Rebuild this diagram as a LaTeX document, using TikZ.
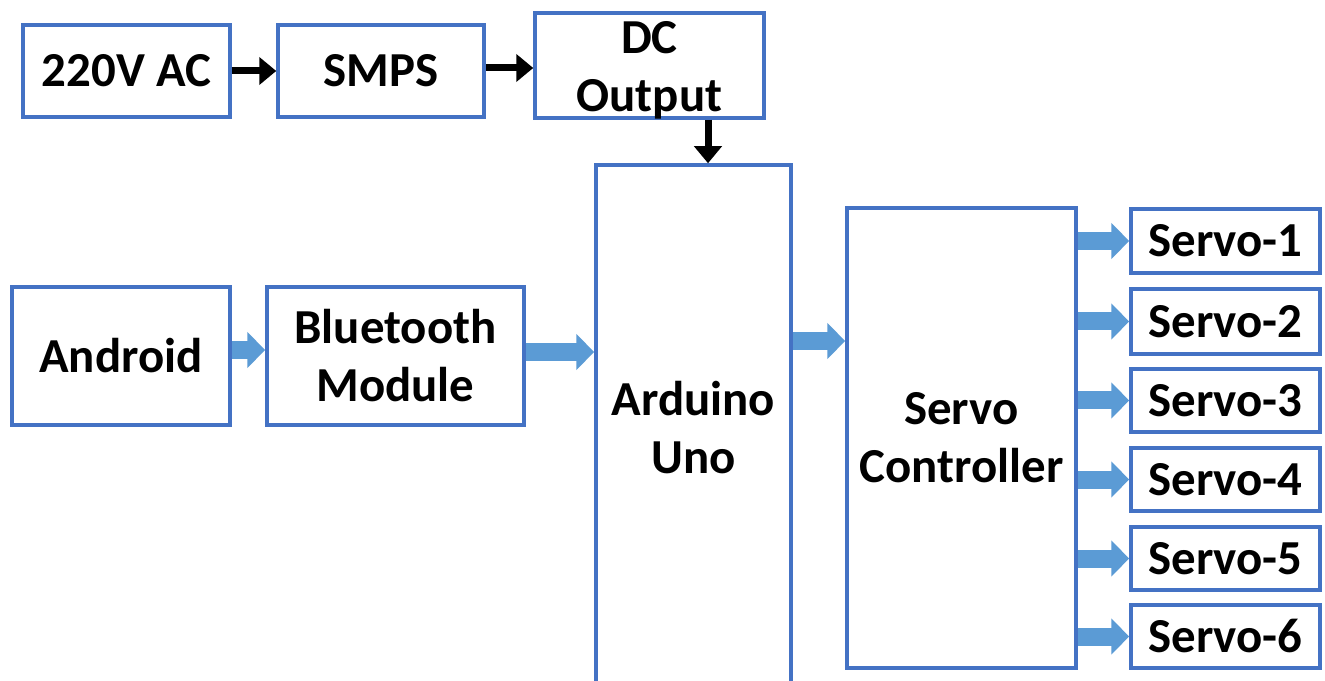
\documentclass[tikz,border=0pt]{standalone}
\usepackage{fontspec}
\setmainfont{Carlito}
\usetikzlibrary{arrows.meta,fit}
\definecolor{boxblue}{HTML}{4472C4}
\definecolor{arrowblue}{HTML}{5B9BD5}
\begin{document}
\begin{tikzpicture}[x=0.2mm,y=-0.2mm,
  box/.style={draw=boxblue, line width=0.7mm, inner sep=0pt},
  txt/.style={align=center, inner sep=0pt,
    font=\bfseries\fontsize{27.8}{33}\selectfont, text=black},
  blk/.style={line width=1.4mm, -{Triangle[length=3.4mm,width=5.4mm]}},
  blu/.style={draw=arrowblue, line width=3.6mm, -{Triangle[length=3.6mm,width=7mm]}}]
\clip (0,0) rectangle (1325,681);
\fill[white] (0,0) rectangle (1325,681);
% top row
\node[box, fit={(23,25) (230,117)}, label={[txt]center:220V AC}] (ac) {};
\node[box, fit={(278,25) (484,117)}, label={[txt]center:SMPS}] (smps) {};
\node[box, fit={(535,13) (764,118)}, label={[txt,yshift=-1mm]center:DC\\Output}] (dc) {};
% middle
\node[box, fit={(12,287) (230,425)}, label={[txt]center:Android}] (and) {};
\node[box, fit={(267,287) (524,425)}, label={[txt]center:Bluetooth\\Module}] (bt) {};
\node[box, fit={(596,165) (791,690)}, label={[txt]center:Arduino\\Uno}] (ard) {};
\node[box, fit={(847,208) (1076,668)}, label={[txt]center:Servo\\Controller}] (sc) {};
% servos
\node[box, fit={(1131,209) (1320,273)}, label={[txt]center:Servo-1}] (s1) {};
\node[box, fit={(1131,289) (1320,354)}, label={[txt]center:Servo-2}] (s2) {};
\node[box, fit={(1131,369) (1320,432)}, label={[txt]center:Servo-3}] (s3) {};
\node[box, fit={(1131,448) (1320,511)}, label={[txt]center:Servo-4}] (s4) {};
\node[box, fit={(1131,527) (1320,590)}, label={[txt]center:Servo-5}] (s5) {};
\node[box, fit={(1131,605) (1320,668)}, label={[txt]center:Servo-6}] (s6) {};
% black arrows
\draw[blk] (ac.east) -- (smps.west);
\draw[blk] (smps.east |- 0,68) -- (dc.west |- 0,68);
\draw[blk] (dc.south -| 708,0) -- (ard.north -| 708,0);
% blue arrows
\draw[blu] (and.east |- 0,350) -- (bt.west |- 0,350);
\draw[blu] (bt.east |- 0,352) -- (ard.west |- 0,352);
\draw[blu] (ard.east |- 0,341) -- (sc.west |- 0,341);
\foreach \s in {s1,s2,s3,s4,s5,s6}
  \draw[blu] (sc.east |- \s.west) -- (\s.west);
\end{tikzpicture}
\end{document}
